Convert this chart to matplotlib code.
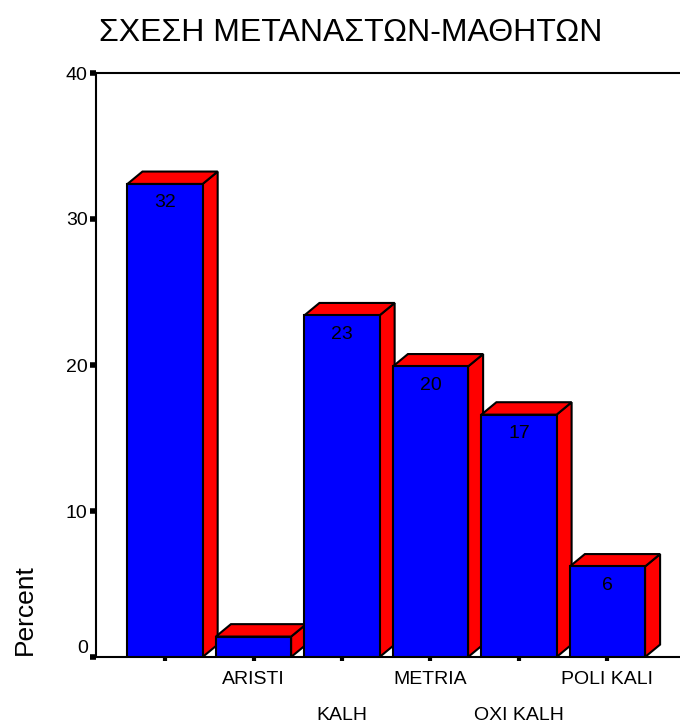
import matplotlib.pyplot as plt
from matplotlib.patches import Polygon, Rectangle
from matplotlib.transforms import blended_transform_factory

plt.rcParams['font.family'] = ['Liberation Sans', 'DejaVu Sans']

categories = ['', 'ARISTI', 'KALH', 'METRIA', 'OXI KALH', 'POLI KALI']
percent = [32.4, 1.4, 23.4, 19.9, 16.6, 6.2]
labels = ['32', '', '23', '20', '17', '6']
title = 'ΣΧΕΣΗ ΜΕΤΑΝΑΣΤΩΝ-ΜΑΘΗΤΩΝ'

fig = plt.figure(figsize=(6.8, 7.24), dpi=100)
ax = fig.add_axes([96 / 680, 67 / 724, 584 / 680, 584 / 724])

w = 0.85   # front width
dx = 0.17  # depth to the right
dy = 0.85  # depth upwards (percent units)
for i, v in enumerate(percent):
    x0 = i - w / 2
    x1 = i + w / 2
    side = Polygon([(x1, 0), (x1 + dx, dy), (x1 + dx, v + dy), (x1, v)],
                   closed=True, facecolor='#ff0000', edgecolor='black', lw=1.5, zorder=2)
    top = Polygon([(x0, v), (x0 + dx, v + dy), (x1 + dx, v + dy), (x1, v)],
                  closed=True, facecolor='#ff0000', edgecolor='black', lw=1.5, zorder=2)
    front = Rectangle((x0, 0), w, v, facecolor='#0000ff', edgecolor='black', lw=1.5, zorder=3)
    ax.add_patch(side)
    ax.add_patch(top)
    ax.add_patch(front)
    if labels[i]:
        ax.text(i, v - 0.7, labels[i], ha='center', va='top', fontsize=14, zorder=4)

ax.set_xlim(-0.78, 5.82)
ax.set_ylim(0, 40)
ax.set_yticks([0, 10, 20, 30, 40])
ax.set_xticks(range(len(categories)))
ax.set_xticklabels([])
ax.spines['right'].set_visible(False)
for s in ['left', 'top', 'bottom']:
    ax.spines[s].set_linewidth(1.5)
ax.tick_params(axis='y', length=4, width=4, labelsize=14, pad=2)
ax.tick_params(axis='x', length=3, width=3)
ax.get_yticklabels()[0].set_va('bottom')

trans = blended_transform_factory(ax.transData, ax.transAxes)
for i, c in enumerate(categories):
    yy = -22 / 584 if i % 2 == 1 else -59 / 584
    ax.text(i, yy, c, transform=trans, ha='center', va='center', fontsize=14)

fig.text(25 / 680, 1 - 610 / 724, 'Percent', rotation=90, ha='center', va='center', fontsize=19)
fig.text(0.515, 1 - 33 / 724, title, ha='center', va='center', fontsize=23)

fig.savefig('out.png', dpi=100)
